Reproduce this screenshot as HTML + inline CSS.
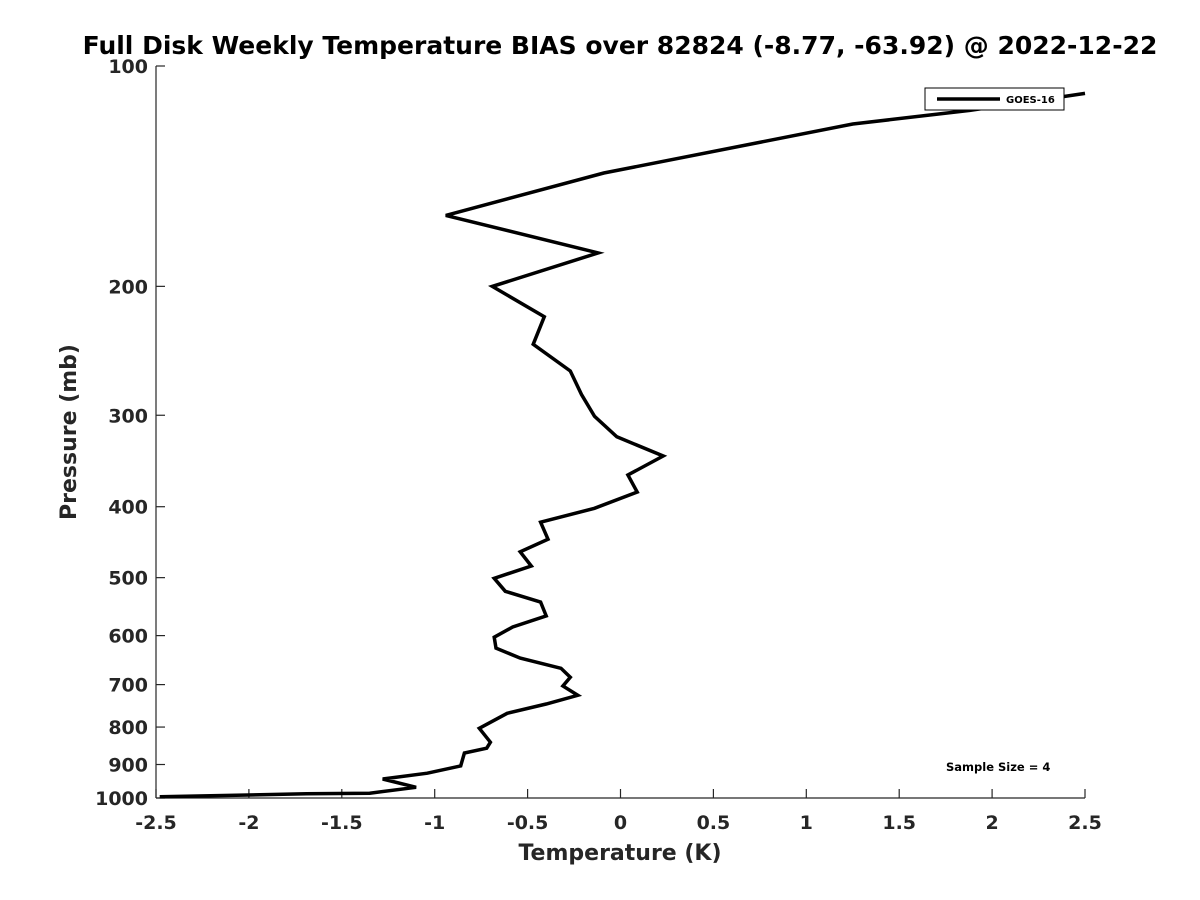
<!DOCTYPE html>
<html><head><meta charset="utf-8"><style>
html,body{margin:0;padding:0;background:#fff;}
svg{display:block;font-family:"DejaVu Sans","Liberation Sans",sans-serif;}
</style></head><body>
<svg id="chart" width="1200" height="900" viewBox="0 0 1200 900">
<text x="620" y="54" text-anchor="middle" font-size="25" font-weight="bold" fill="#000">Full Disk Weekly Temperature BIAS over 82824 (-8.77, -63.92) @ 2022-12-22</text>
<g id="axes"></g>
<polyline id="series" fill="none" stroke="#000" stroke-width="3.5" stroke-linejoin="miter"/>
<g>
<rect x="925" y="88" width="139" height="22" fill="#fff" stroke="#000" stroke-width="1"/>
<line x1="937" y1="99" x2="1000" y2="99" stroke="#000" stroke-width="3.5"/>
<text x="1006" y="103" font-size="10" font-weight="bold">GOES-16</text>
</g>
<text x="946" y="771" font-size="11.5" font-weight="bold">Sample Size = 4</text>
<text x="620" y="860" text-anchor="middle" font-size="22" font-weight="bold" fill="#262626">Temperature (K)</text>
<text transform="translate(76,432) rotate(-90)" text-anchor="middle" font-size="22" font-weight="bold" fill="#262626">Pressure (mb)</text>
</svg>
<script>
const temps = [2.50,1.88,1.25,-0.09,-0.94,-0.12,-0.69,-0.41,-0.47,-0.27,-0.21,-0.14,-0.02,0.23,0.04,0.09,-0.14,-0.43,-0.39,-0.54,-0.48,-0.68,-0.62,-0.43,-0.40,-0.58,-0.68,-0.67,-0.54,-0.32,-0.27,-0.31,-0.23,-0.40,-0.61,-0.76,-0.70,-0.72,-0.84,-0.86,-1.04,-1.28,-1.10,-1.35,-1.69,-2.48];
const pressures = [109,115,120,140,160,180,200,220,240,261,281,301,321,341,362,382,402,420,443,461,482,501,522,540,564,584,603,624,644,665,684,703,724,744,766,803,839,855,868,904,925,942,967,985,987,996];
const xTicks = [-2.5,-2,-1.5,-1,-0.5,0,0.5,1,1.5,2,2.5];
const yTicks = [100,200,300,400,500,600,700,800,900,1000];
const X0=156,X1=1085,Y0=66,Y1=798;
function xs(t){return X0+(t+2.5)/5*(X1-X0);}
function ys(p){return Y0+(Math.log10(p)-2)*(Y1-Y0);}
const NS="http://www.w3.org/2000/svg";
const ax=document.getElementById('axes');
function mk(tag,attrs){const e=document.createElementNS(NS,tag);for(const k in attrs)e.setAttribute(k,attrs[k]);ax.appendChild(e);return e;}
let l=mk('line',{x1:X0,y1:Y0,x2:X0,y2:Y1,stroke:'#262626','stroke-width':1.2});


l=mk('line',{x1:X0,y1:Y1,x2:X1,y2:Y1,stroke:'#262626','stroke-width':1.2});


xTicks.forEach(t=>{
  const x=xs(t);
  const tk=mk('line',{x1:x,y1:Y1,x2:x,y2:Y1-9,stroke:'#262626','stroke-width':1.2});
  
  
  const tx=mk('text',{x:x,y:Y1+31,'text-anchor':'middle','font-size':19,'font-weight':'bold',fill:'#262626'});
  tx.textContent=String(t);
  
  
});
yTicks.forEach(p=>{
  const y=ys(p);
  const tk=mk('line',{x1:X0,y1:y,x2:X0+9,y2:y,stroke:'#262626','stroke-width':1.2});
  
  
  const tx=mk('text',{x:X0-8,y:y+7,'text-anchor':'end','font-size':19,'font-weight':'bold',fill:'#262626'});
  tx.textContent=String(p);
  
  
});
document.getElementById('series').setAttribute('points',temps.map((t,i)=>xs(t).toFixed(1)+','+ys(pressures[i]).toFixed(1)).join(' '));
</script>
</body></html>
